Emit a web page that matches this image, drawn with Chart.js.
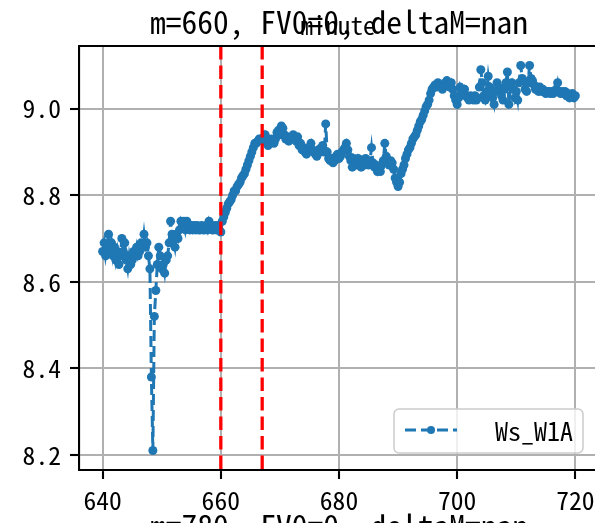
<!DOCTYPE html>
<html>
<head>
<meta charset="utf-8">
<script src="https://cdn.jsdelivr.net/npm/chart.js@4"></script>
<style>
  html, body { margin: 0; padding: 0; background: #fff; }
  #wrap { width: 595px; height: 523px; overflow: hidden; position: relative; }
  canvas { display: block; }
</style>
</head>
<body>
<div id="wrap"><canvas id="chart" width="620" height="523"></canvas></div>
<script>
// Ws_W1A, sampled every 0.25 minute from 640 to 720
const ws = [
  8.67, 8.69, 8.66, 8.68,   // 640
  8.71, 8.67, 8.69, 8.66,   // 641
  8.68, 8.65, 8.67, 8.64,   // 642
  8.66, 8.70, 8.67, 8.69,   // 643
  8.65, 8.63, 8.66, 8.64,   // 644
  8.65, 8.67, 8.66, 8.68,   // 645
  8.66, 8.67, 8.69, 8.68,   // 646
  8.71, 8.68, 8.69, 8.66,   // 647
  8.63, 8.38, 8.21, 8.52,   // 648
  8.58, 8.64, 8.68, 8.66,   // 649
  8.63, 8.64, 8.62, 8.65,   // 650
  8.66, 8.69, 8.74, 8.71,   // 651
  8.70, 8.68, 8.71, 8.70,   // 652
  8.72, 8.74, 8.73, 8.74,   // 653
  8.72, 8.74, 8.73, 8.72,   // 654
  8.73, 8.72, 8.73, 8.72,   // 655
  8.73, 8.72, 8.72, 8.73,   // 656
  8.72, 8.72, 8.73, 8.72,   // 657
  8.74, 8.73, 8.72, 8.72,   // 658
  8.73, 8.72, 8.73, 8.72,   // 659
  8.715, 8.74, 8.75, 8.76,  // 660
  8.77, 8.78, 8.785, 8.79,  // 661
  8.80, 8.81, 8.81, 8.82,   // 662
  8.825, 8.83, 8.84, 8.845, // 663
  8.85, 8.86, 8.87, 8.88,   // 664
  8.89, 8.90, 8.91, 8.92,   // 665
  8.92, 8.925, 8.93, 8.93,  // 666
  8.93, 8.925, 8.94, 8.93,  // 667
  8.915, 8.92, 8.93, 8.925, // 668
  8.92, 8.93, 8.945, 8.95,  // 669
  8.94, 8.96, 8.955, 8.94,  // 670
  8.93, 8.935, 8.925, 8.93, // 671
  8.935, 8.94, 8.93, 8.925, // 672
  8.935, 8.915, 8.92, 8.905,// 673
  8.91, 8.90, 8.895, 8.905, // 674
  8.91, 8.92, 8.905, 8.90,  // 675
  8.895, 8.89, 8.905, 8.90, // 676
  8.91, 8.915, 8.90, 8.965, // 677
  8.90, 8.885, 8.88, 8.885, // 678
  8.875, 8.88, 8.89, 8.895, // 679
  8.885, 8.89, 8.90, 8.905, // 680
  8.91, 8.92, 8.905, 8.89,  // 681
  8.88, 8.865, 8.885, 8.875,// 682
  8.87, 8.885, 8.875, 8.865,// 683
  8.88, 8.87, 8.885, 8.875, // 684
  8.87, 8.88, 8.91, 8.875,  // 685
  8.865, 8.87, 8.855, 8.865,// 686
  8.855, 8.87, 8.88, 8.92,  // 687
  8.89, 8.875, 8.87, 8.88,  // 688
  8.875, 8.86, 8.84, 8.83,  // 689
  8.82, 8.83, 8.85, 8.86,   // 690
  8.87, 8.885, 8.895, 8.905,// 691
  8.91, 8.92, 8.93, 8.935,  // 692
  8.94, 8.95, 8.96, 8.97,   // 693
  8.975, 8.985, 8.995, 9.005, // 694
  9.01, 9.02, 9.035, 9.045, // 695
  9.05, 9.055, 9.05, 9.06,  // 696
  9.055, 9.05, 9.045, 9.055,// 697
  9.06, 9.065, 9.055, 9.05, // 698
  9.06, 9.045, 9.03, 9.02,  // 699
  9.01, 9.025, 9.05, 9.04,  // 700
  9.035, 9.045, 9.03, 9.025,// 701
  9.02, 9.03, 9.025, 9.02,  // 702
  9.03, 9.02, 9.025, 9.05,  // 703
  9.09, 9.06, 9.03, 9.02,   // 704
  9.04, 9.075, 9.05, 9.03,  // 705
  9.025, 9.01, 9.04, 9.06,  // 706
  9.05, 9.045, 9.03, 9.02,  // 707
  9.045, 9.06, 9.085, 9.01, // 708
  9.05, 9.06, 9.045, 9.025, // 709
  9.04, 9.02, 9.06, 9.10,   // 710
  9.07, 9.065, 9.045, 9.04, // 711
  9.06, 9.10, 9.07, 9.065,  // 712
  9.055, 9.045, 9.05, 9.04, // 713
  9.05, 9.04, 9.045, 9.04,  // 714
  9.035, 9.04, 9.04, 9.035, // 715
  9.04, 9.035, 9.04, 9.045, // 716
  9.06, 9.04, 9.035, 9.04,  // 717
  9.035, 9.04, 9.03, 9.035, // 718
  9.025, 9.03, 9.035, 9.025,// 719
  9.03                      // 720
];
const minutes = ws.map((_, i) => 640 + i * 0.25);

const xTicks = [640, 660, 680, 700, 720];
const yTicks = [8.2, 8.4, 8.6, 8.8, 9.0];
const yTickLabels = ['8.2', '8.4', '8.6', '8.8', '9.0'];
const markLines = [660, 667];   // red dashed verticals
const seriesName = 'Ws_W1A';
const title = 'm=660, FV0=0, deltaM=nan';
const nextTitle = 'm=780, FV0=0, deltaM=nan';
const overlapLabel = 'minute';

const BLUE = '#1f77b4';
const FONT = "'Noto Sans Mono CJK SC', 'DejaVu Sans Mono', monospace";

// extra drawing: spines, vertical marks, titles, legend
const extras = {
    id: 'extras',
    beforeDraw(chart) {
        const ctx = chart.ctx;
        ctx.save();
        ctx.fillStyle = '#fff';
        ctx.fillRect(0, 0, chart.width, chart.height);
        ctx.restore();
    },
    afterDatasetsDraw(chart) {
        const ctx = chart.ctx;
        const a = chart.chartArea;
        const xs = chart.scales.x;
        ctx.save();
        ctx.strokeStyle = '#ff0000';
        ctx.lineWidth = 3.3;
        ctx.setLineDash([13.5, 6]);
        markLines.forEach(m => {
            const px = xs.getPixelForValue(m);
            ctx.beginPath();
            ctx.moveTo(px, a.top);
            ctx.lineTo(px, a.bottom);
            ctx.stroke();
        });
        ctx.restore();
    },
    afterDraw(chart) {
        const ctx = chart.ctx;
        const a = chart.chartArea;
        const cx = (a.left + a.right) / 2;
        ctx.save();
        // top + right spines
        ctx.strokeStyle = '#000';
        ctx.lineWidth = 2.1;
        ctx.beginPath();
        ctx.moveTo(a.left, a.top);
        ctx.lineTo(a.right, a.top);
        ctx.lineTo(a.right, a.bottom);
        ctx.stroke();

        // titles
        ctx.fillStyle = '#000';
        ctx.textAlign = 'center';
        ctx.textBaseline = 'alphabetic';
        ctx.font = '31.5px ' + FONT;
        ctx.fillText(title, cx, 34);
        ctx.fillText(nextTitle, cx, 538);
        ctx.font = '25px ' + FONT;
        ctx.fillText(overlapLabel, cx - 1, 35);

        // legend
        const lx = 394, ly = 409, lw = 189, lh = 44;
        ctx.beginPath();
        ctx.roundRect(lx, ly, lw, lh, 5);
        ctx.fillStyle = 'rgba(255,255,255,0.8)';
        ctx.fill();
        ctx.strokeStyle = '#cccccc';
        ctx.lineWidth = 1.5;
        ctx.stroke();
        const hy = ly + 21;
        ctx.strokeStyle = BLUE;
        ctx.lineWidth = 3;
        ctx.setLineDash([11, 5]);
        ctx.beginPath();
        ctx.moveTo(405, hy);
        ctx.lineTo(457, hy);
        ctx.stroke();
        ctx.setLineDash([]);
        ctx.fillStyle = BLUE;
        ctx.beginPath();
        ctx.arc(431, hy, 4, 0, Math.PI * 2);
        ctx.fill();
        ctx.fillStyle = '#000';
        ctx.textAlign = 'right';
        ctx.textBaseline = 'middle';
        ctx.font = '26px ' + FONT;
        ctx.fillText(seriesName, 573, hy + 1);
        ctx.restore();
    }
};

new Chart(document.getElementById('chart'), {
    type: 'line',
    data: {
        datasets: [{
            label: seriesName,
            data: minutes.map((m, i) => ({ x: m, y: ws[i] })),
            borderColor: BLUE,
            backgroundColor: BLUE,
            borderWidth: 3,
            borderDash: [11, 5],
            pointRadius: 4.5,
            pointBorderWidth: 0,
            pointBackgroundColor: BLUE,
            tension: 0
        }]
    },
    options: {
        responsive: false,
        animation: false,
        events: [],
        layout: { padding: { left: 0, top: 46, right: 21, bottom: 0 } },
        plugins: {
            legend: { display: false },
            tooltip: { enabled: false },
            title: { display: false }
        },
        scales: {
            x: {
                type: 'linear',
                min: 636,
                max: 724,
                afterFit: s => { s.height = 53; },
                afterBuildTicks: s => { s.ticks = xTicks.map(v => ({ value: v })); },
                grid: { color: '#b0b0b0', lineWidth: 2, tickColor: '#000', tickWidth: 2.1, tickLength: 9 },
                border: { color: '#000', width: 2.1 },
                ticks: { color: '#000', padding: 6, maxRotation: 0, font: { family: FONT, size: 25.6 } }
            },
            y: {
                min: 8.165,
                max: 9.145,
                afterFit: s => { s.width = 79; },
                afterBuildTicks: s => { s.ticks = yTicks.map(v => ({ value: v })); },
                grid: { color: '#b0b0b0', lineWidth: 2, tickColor: '#000', tickWidth: 2.1, tickLength: 9 },
                border: { color: '#000', width: 2.1 },
                ticks: {
                    color: '#000',
                    padding: 9,
                    font: { family: FONT, size: 25.6 },
                    callback: (v, i) => yTickLabels[i]
                }
            }
        }
    },
    plugins: [extras]
});
</script>
</body>
</html>
